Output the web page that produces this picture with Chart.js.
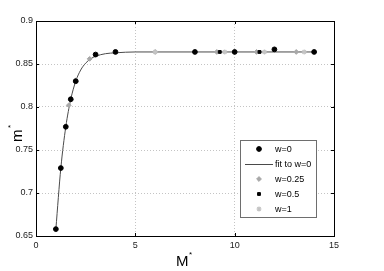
<!DOCTYPE html>
<html>
<head>
<meta charset="utf-8">
<script src="https://cdn.jsdelivr.net/npm/chart.js@4/dist/chart.umd.min.js"></script>
<style>
	html, body { margin: 0; padding: 0; background: #ffffff; }
	#wrap { width: 384px; height: 271px; }
</style>
</head>
<body>
<div id="wrap"><canvas id="mChart" width="384" height="271"></canvas></div>
<script>
// data
const w0X = [1, 1.25, 1.5, 1.75, 2, 3, 4, 8, 10, 12, 14];
const w0Y = [0.658, 0.729, 0.777, 0.809, 0.830, 0.861, 0.864, 0.864, 0.864, 0.867, 0.864];

const fitX = [1, 1.25, 1.5, 1.75, 2, 2.25, 2.5, 2.75, 3, 3.5, 4, 5, 6, 8, 10, 12, 14];
const fitY = [0.658, 0.729, 0.777, 0.809, 0.830, 0.843, 0.851, 0.856, 0.859, 0.862, 0.863, 0.864, 0.864, 0.864, 0.864, 0.864, 0.864];

const w025X = [1.65, 2.0, 2.7, 6, 9.1, 11.1, 13.1];
const w025Y = [0.802, 0.831, 0.856, 0.864, 0.864, 0.864, 0.864];

const w05X = [9.25, 11.25];
const w05Y = [0.864, 0.864];

const w1X = [6, 9.5, 11.5, 13.5];
const w1Y = [0.864, 0.864, 0.864, 0.864];

const xTicks = [0, 5, 10, 15];
const yTicks = [0.65, 0.7, 0.75, 0.8, 0.85, 0.9];

function toPoints(xs, ys) {
	return xs.map((x, i) => ({ x: x, y: ys[i] }));
}

const fontFamily = '"Liberation Sans", Arial, sans-serif';

// box frame with inward ticks, axis titles
const framePlugin = {
	id: 'frame',
	afterDraw(chart) {
		const ctx = chart.ctx;
		const a = chart.chartArea;
		const xs = chart.scales.x, ys = chart.scales.y;
		ctx.save();
		ctx.strokeStyle = '#000000';
		ctx.lineWidth = 1;
		ctx.strokeRect(Math.round(a.left) + 0.5, Math.round(a.top) + 0.5,
			Math.round(a.right - a.left), Math.round(a.bottom - a.top));
		ctx.beginPath();
		xTicks.forEach(v => {
			const p = Math.round(xs.getPixelForValue(v)) + 0.5;
			ctx.moveTo(p, a.bottom); ctx.lineTo(p, a.bottom - 3);
			ctx.moveTo(p, a.top); ctx.lineTo(p, a.top + 3);
		});
		yTicks.forEach(v => {
			const p = Math.round(ys.getPixelForValue(v)) + 0.5;
			ctx.moveTo(a.left, p); ctx.lineTo(a.left + 3, p);
			ctx.moveTo(a.right, p); ctx.lineTo(a.right - 3, p);
		});
		ctx.stroke();

		// axis titles
		ctx.fillStyle = '#000000';
		ctx.textBaseline = 'alphabetic';
		ctx.textAlign = 'left';
		ctx.font = '15px ' + fontFamily;
		ctx.fillText('M', 176, 266);
		ctx.font = '8px ' + fontFamily;
		ctx.fillText('*', 189, 257);

		ctx.translate(22, 142);
		ctx.rotate(-Math.PI / 2);
		ctx.font = '15px ' + fontFamily;
		ctx.fillText('m', 0, 0);
		ctx.font = '8px ' + fontFamily;
		ctx.fillText('*', 14, -9);
		ctx.restore();
	}
};

// legend inside the plot, MATLAB style
const legendPlugin = {
	id: 'boxLegend',
	afterDraw(chart) {
		const ctx = chart.ctx;
		const left = 240, top = 140, right = 316, bottom = 217;
		ctx.save();
		ctx.fillStyle = '#ffffff';
		ctx.fillRect(left, top, right - left, bottom - top);
		ctx.strokeStyle = '#6e6e6e';
		ctx.lineWidth = 1;
		ctx.strokeRect(left + 0.5, top + 0.5, right - left, bottom - top);
		const rowY = [149, 164, 179, 194, 209];
		chart.data.datasets.forEach((ds, i) => {
			const y = rowY[i];
			if (ds.showLine) {
				ctx.strokeStyle = ds.borderColor;
				ctx.lineWidth = 1;
				ctx.beginPath();
				ctx.moveTo(245, y + 0.5);
				ctx.lineTo(273, y + 0.5);
				ctx.stroke();
			} else {
				ctx.fillStyle = ds.backgroundColor;
				ctx.strokeStyle = ds.borderColor;
				ctx.lineWidth = ds.pointBorderWidth || 1;
				Chart.helpers.drawPoint(ctx, {
					pointStyle: ds.pointStyle,
					radius: ds.pointRadius,
					rotation: 0,
					borderWidth: ds.pointBorderWidth || 1
				}, 259, y);
			}
			ctx.fillStyle = '#000000';
			ctx.font = '9px ' + fontFamily;
			ctx.textAlign = 'left';
			ctx.textBaseline = 'middle';
			ctx.fillText(ds.label, 275, y + 0.5);
		});
		ctx.restore();
	}
};

const ctx = document.getElementById('mChart').getContext('2d');
const mChart = new Chart(ctx, {
	type: 'scatter',
	data: {
		datasets: [
			{
				label: 'w=0',
				data: toPoints(w0X, w0Y),
				showLine: false,
				pointStyle: 'circle',
				pointRadius: 2.4,
				backgroundColor: '#000000',
				borderColor: '#000000',
				pointBorderWidth: 1,
				order: 0
			},
			{
				label: 'fit to w=0',
				data: toPoints(fitX, fitY),
				showLine: true,
				borderColor: '#4a4a4a',
				backgroundColor: '#4a4a4a',
				borderWidth: 1,
				pointRadius: 0,
				cubicInterpolationMode: 'monotone',
				order: 5
			},
			{
				label: 'w=0.25',
				data: toPoints(w025X, w025Y),
				showLine: false,
				pointStyle: 'rectRot',
				pointRadius: 2.4,
				backgroundColor: '#a8a8a8',
				borderColor: '#a8a8a8',
				pointBorderWidth: 1,
				order: 3
			},
			{
				label: 'w=0.5',
				data: toPoints(w05X, w05Y),
				showLine: false,
				pointStyle: 'rect',
				pointRadius: 2,
				backgroundColor: '#000000',
				borderColor: '#000000',
				pointBorderWidth: 1,
				order: 1
			},
			{
				label: 'w=1',
				data: toPoints(w1X, w1Y),
				showLine: false,
				pointStyle: 'star',
				pointRadius: 2.5,
				backgroundColor: '#c4c4c4',
				borderColor: '#c4c4c4',
				pointBorderWidth: 1.2,
				order: 2
			}
		]
	},
	options: {
		responsive: false,
		animation: false,
		layout: { padding: { left: 0, top: 21, right: 50, bottom: 0 } },
		plugins: {
			legend: { display: false },
			tooltip: { enabled: false }
		},
		scales: {
			x: {
				type: 'linear',
				min: 0,
				max: 15,
				afterFit: scale => { scale.height = 35; },
				afterBuildTicks: scale => { scale.ticks = xTicks.map(v => ({ value: v })); },
				ticks: {
					color: '#222222',
					font: { size: 9, family: fontFamily },
					padding: 4,
					maxRotation: 0,
					callback: v => String(v)
				},
				grid: { color: '#c4c4c4', drawTicks: false, lineWidth: 1 },
				border: { display: false, dash: [1, 2] }
			},
			y: {
				type: 'linear',
				min: 0.65,
				max: 0.9,
				afterFit: scale => { scale.width = 36; },
				afterBuildTicks: scale => { scale.ticks = yTicks.map(v => ({ value: v })); },
				ticks: {
					color: '#222222',
					font: { size: 9, family: fontFamily },
					padding: 3,
					callback: v => String(+v.toFixed(2))
				},
				grid: { color: '#c4c4c4', drawTicks: false, lineWidth: 1 },
				border: { display: false, dash: [1, 2] }
			}
		}
	},
	plugins: [framePlugin, legendPlugin]
});
</script>
</body>
</html>
